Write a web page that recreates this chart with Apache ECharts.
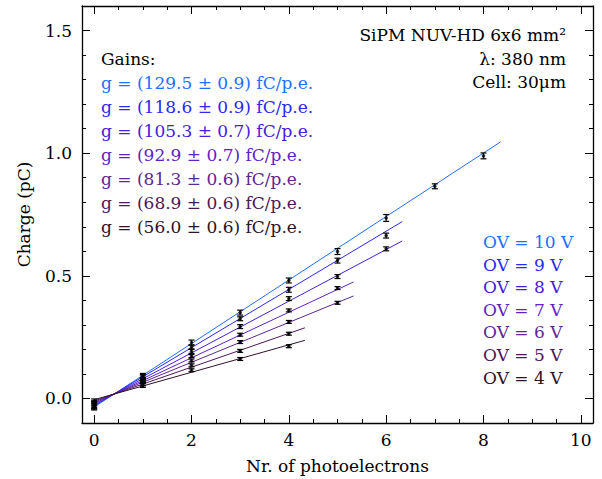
<html>
<head>
  <meta charset="utf-8">
  <title>SiPM gain</title>
</head>
<body style="margin:0;">
<div id="main" style="width:602px;height:479px;"></div>
<script src="https://cdn.jsdelivr.net/npm/echarts@6/dist/echarts.min.js"></script>
<script>
  // overvoltage and fitted gains
  var ov = [10, 9, 8, 7, 6, 5, 4];
  var gain = [129.5, 118.6, 105.3, 92.9, 81.3, 68.9, 56.0];
  var gainErr = [0.9, 0.9, 0.7, 0.7, 0.6, 0.6, 0.6];

  // measured charge (pC) vs nr of photoelectrons 0,1,2,...
  var q10 = [-0.035, 0.092, 0.228, 0.350, 0.481, 0.599, 0.736, 0.865, 0.989];
  var q9 = [-0.030, 0.088, 0.210, 0.325, 0.443, 0.562, 0.664];
  var q8 = [-0.025, 0.082, 0.192, 0.293, 0.407, 0.497, 0.610];
  var q7 = [-0.030, 0.075, 0.173, 0.260, 0.359, 0.450];
  var q6 = [-0.020, 0.068, 0.155, 0.230, 0.312, 0.390];
  var q5 = [-0.020, 0.060, 0.135, 0.194, 0.264];
  var q4 = [-0.012, 0.053, 0.115, 0.161, 0.213];

  // errors on the charge
  var e10 = [0.012, 0.010, 0.010, 0.010, 0.010, 0.012, 0.014, 0.010, 0.012];
  var e9 = [0.012, 0.010, 0.008, 0.008, 0.010, 0.010, 0.010];
  var e8 = [0.012, 0.010, 0.008, 0.008, 0.008, 0.008, 0.008];
  var e7 = [0.012, 0.010, 0.006, 0.006, 0.006, 0.006];
  var e6 = [0.010, 0.008, 0.006, 0.006, 0.006, 0.006];
  var e5 = [0.010, 0.008, 0.006, 0.006, 0.006];
  var e4 = [0.010, 0.008, 0.006, 0.006, 0.006];

  // fit lines: start / end points
  var fitX0 = [0, 0, 0, 0, 0, 0, 0];
  var fitX1 = [8.35, 6.33, 6.33, 5.33, 5.33, 4.33, 4.33];
  var fitY0 = [-0.035, -0.030, -0.025, -0.020, -0.015, -0.010, -0.005];
  var fitY1 = [1.046, 0.721, 0.642, 0.475, 0.418, 0.288, 0.237];

  var xMajor = [0, 2, 4, 6, 8, 10];
  var yMajor = [0, 0.5, 1.0, 1.5];

  var charges = [q10, q9, q8, q7, q6, q5, q4];
  var errors = [e10, e9, e8, e7, e6, e5, e4];
  var colors = ['#1f6fff', '#2a2af2', '#4420dc', '#5f22c4', '#5e268f', '#4c1858', '#2e1229'];
  var FONT = '"DejaVu Serif", "Liberation Serif", serif';

  var xMinor = [], yMinor = [];
  for (var i = 1; i <= 20; i++) if (i % 4 != 0) xMinor.push(i * 0.5);
  for (var j = -1; j <= 16; j++) if (j % 5 != 0) yMinor.push(+(j * 0.1).toFixed(1));

  function axisX(pos, ticks, len, showLine, showLabel) {
    return {
      type: 'value', min: -0.25, max: 10.25, position: pos,
      axisLine: {show: showLine, onZero: false, lineStyle: {color: '#000', width: 1.3}},
      axisTick: {show: true, inside: true, length: len, customValues: ticks, lineStyle: {color: '#000'}},
      axisLabel: {show: showLabel, customValues: xMajor, color: '#000', fontFamily: FONT, fontSize: 17, margin: 8},
      splitLine: {show: false}
    };
  }
  function axisY(pos, ticks, len, showLine, showLabel) {
    return {
      type: 'value', min: -0.1, max: 1.6, position: pos,
      axisLine: {show: showLine, onZero: false, lineStyle: {color: '#000', width: 1.3}},
      axisTick: {show: true, inside: true, length: len, customValues: ticks, lineStyle: {color: '#000'}},
      axisLabel: {show: showLabel, customValues: yMajor, color: '#000', fontFamily: FONT, fontSize: 17, margin: 10,
        formatter: function (v) { return v.toFixed(1); }},
      splitLine: {show: false}
    };
  }

  var xAxes = [axisX('bottom', xMajor, 8, true, true), axisX('bottom', xMinor, 4, false, false),
               axisX('top', xMajor, 8, true, false), axisX('top', xMinor, 4, false, false)];
  xAxes[0].name = 'Nr. of photoelectrons';
  xAxes[0].nameLocation = 'middle';
  xAxes[0].nameGap = 34;
  xAxes[0].nameTextStyle = {color: '#000', fontFamily: FONT, fontSize: 17};
  var yAxes = [axisY('left', yMajor, 8, true, true), axisY('left', yMinor, 4, false, false),
               axisY('right', yMajor, 8, true, false), axisY('right', yMinor, 4, false, false)];
  yAxes[0].name = 'Charge (pC)';
  yAxes[0].nameLocation = 'middle';
  yAxes[0].nameGap = 50;
  yAxes[0].nameTextStyle = {color: '#000', fontFamily: FONT, fontSize: 17};

  function errorBar(params, api) {
    var lo = api.coord([api.value(0), api.value(1)]);
    var hi = api.coord([api.value(0), api.value(2)]);
    var w = 3;
    var st = {stroke: '#000', lineWidth: 1.2};
    return {type: 'group', children: [
      {type: 'line', shape: {x1: lo[0], y1: lo[1], x2: hi[0], y2: hi[1]}, style: st},
      {type: 'line', shape: {x1: lo[0] - w, y1: lo[1], x2: lo[0] + w, y2: lo[1]}, style: st},
      {type: 'line', shape: {x1: hi[0] - w, y1: hi[1], x2: hi[0] + w, y2: hi[1]}, style: st}
    ]};
  }

  var series = [];
  charges.forEach(function (q, k) {
    series.push({
      type: 'line', data: [[fitX0[k], fitY0[k]], [fitX1[k], fitY1[k]]],
      showSymbol: false, lineStyle: {color: colors[k], width: 1}, z: 2, silent: true
    });
  });
  charges.forEach(function (q, k) {
    series.push({
      type: 'custom', renderItem: errorBar, z: 3,
      encode: {x: 0, y: [1, 2]},
      data: q.map(function (v, n) { return [n, v - errors[k][n], v + errors[k][n]]; })
    });
    series.push({
      type: 'scatter', symbolSize: 3.5, itemStyle: {color: '#000'}, z: 4,
      data: q.map(function (v, n) { return [n, v]; })
    });
  });

  var graphics = [];
  function txt(s, x, y, color, align) {
    graphics.push({type: 'text', x: x, y: y, silent: true,
      style: {text: s, fill: color, font: '17px ' + FONT, textAlign: align, textVerticalAlign: 'middle'}});
  }
  txt('SiPM NUV-HD 6x6 mm²', 566, 35, '#000', 'right');
  txt('λ: 380 nm', 566, 59, '#000', 'right');
  txt('Cell: 30μm', 566, 82, '#000', 'right');
  txt('Gains:', 101, 59, '#000', 'left');
  gain.forEach(function (g, k) {
    txt('g = (' + g.toFixed(1) + ' ± ' + gainErr[k].toFixed(1) + ') fC/p.e.', 101, 83 + k * 24, colors[k], 'left');
    txt('OV = ' + ov[k] + ' V', 483, 242 + k * 22.6, colors[k], 'left');
  });

  var myChart = echarts.init(document.getElementById('main'), null, {renderer: 'svg'});
  myChart.setOption({
    backgroundColor: '#fff',
    animation: false,
    grid: {left: 82, right: 9, top: 6, bottom: 54, containLabel: false},
    xAxis: xAxes,
    yAxis: yAxes,
    series: series,
    graphic: graphics
  });
</script>
</body>
</html>
